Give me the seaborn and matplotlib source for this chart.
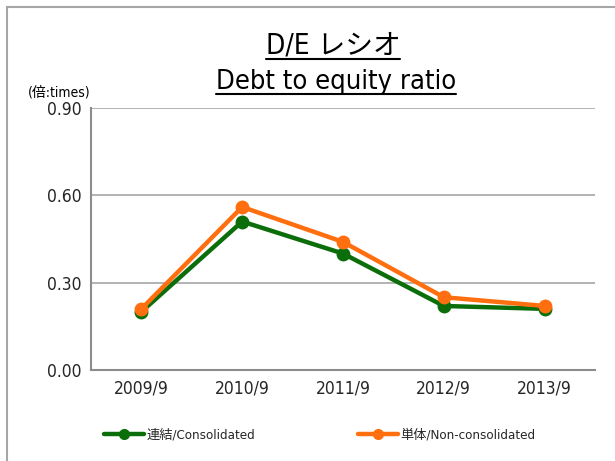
import numpy as np
import pandas as pd
import seaborn as sns
import matplotlib.pyplot as plt
from matplotlib.lines import Line2D
from matplotlib.patches import Rectangle

# --- data ---
periods = ["2009/9", "2010/9", "2011/9", "2012/9", "2013/9"]
consolidated = [0.20, 0.51, 0.40, 0.22, 0.21]
non_consolidated = [0.21, 0.56, 0.44, 0.25, 0.22]
series_names = ["連結/Consolidated", "単体/Non-consolidated"]
colors = ["#0b6e0b", "#ff6f0f"]

df = pd.DataFrame({
    "pos": list(range(len(periods))) * 2,
    "value": consolidated + non_consolidated,
    "series": [series_names[0]] * len(periods) + [series_names[1]] * len(periods),
})

sns.set_theme(style="white")
plt.rcParams["font.family"] = ["DejaVu Sans", "Noto Sans CJK JP"]
plt.rcParams["font.stretch"] = "condensed"

fig = plt.figure(figsize=(6.15, 4.61), dpi=100)
ax = fig.add_axes([91 / 615, 1 - 370 / 461, (595 - 91) / 615, (370 - 108) / 461])

sns.lineplot(data=df, x="pos", y="value", hue="series", palette=colors,
             marker="o", markersize=10, linewidth=3.2, markeredgewidth=0,
             ax=ax, legend=False)

ax.set_xlim(-0.5, len(periods) - 0.5)
ax.set_ylim(0, 0.9)
ax.set_xticks(range(len(periods)))
ax.set_xticklabels(periods, fontsize=12.5)
ax.set_yticks([0, 0.3, 0.6, 0.9])
ax.set_yticklabels(["0.00", "0.30", "0.60", "0.90"], fontsize=12.5)
ax.tick_params(axis="both", length=0, pad=7)
ax.set_xlabel("")
ax.set_ylabel("")
ax.yaxis.grid(True, color="#a6a6a6", linewidth=1.2)
for side in ["top", "right"]:
    ax.spines[side].set_visible(False)
for side in ["left", "bottom"]:
    ax.spines[side].set_color("#8c8c8c")
    ax.spines[side].set_linewidth(1.5)

# outer frame
fig.patches.append(Rectangle((7 / 615, -0.05), 1.2, 1 - 7 / 461 + 0.05,
                             transform=fig.transFigure, fill=False,
                             edgecolor="#a6a6a6", linewidth=1.5))

# titles with underline
t1 = fig.text(333 / 615, 1 - 46 / 461, "D/E レシオ", ha="center", va="center",
              fontsize=20, color="black")
t2 = fig.text(336 / 615, 1 - 82 / 461, "Debt to equity ratio", ha="center",
              va="center", fontsize=19.5, color="black")
fig.text(59 / 615, 1 - 93 / 461, "(倍:times)", ha="center", va="center",
         fontsize=10, color="black")

fig.canvas.draw()
renderer = fig.canvas.get_renderer()
for t in (t1, t2):
    bb = t.get_window_extent(renderer).transformed(fig.transFigure.inverted())
    fig.add_artist(Line2D([bb.x0, bb.x1], [bb.y0 + 0.003, bb.y0 + 0.003],
                          transform=fig.transFigure, color="black", linewidth=1.5))

handles = [Line2D([], [], color=c, linewidth=3.2, marker="o", markersize=7)
           for c in colors]
fig.legend(handles, series_names, loc="center", bbox_to_anchor=(0.52, 1 - 435 / 461),
           ncol=2, frameon=False, fontsize=9.5, columnspacing=7.8, handlelength=3.0,
           handletextpad=0.2)

fig.savefig("out.png", dpi=100)
